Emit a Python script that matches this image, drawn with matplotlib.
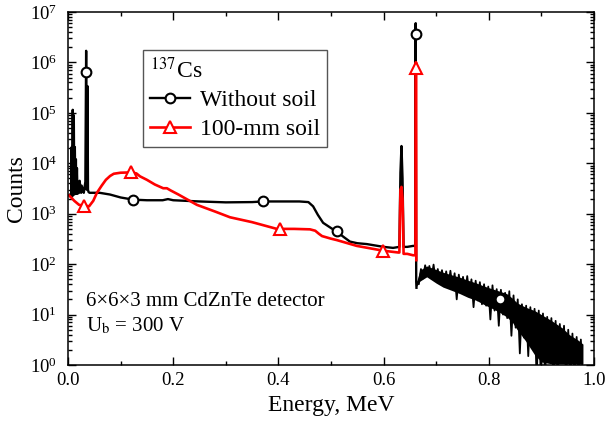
import numpy as np
import matplotlib.pyplot as plt
from matplotlib.lines import Line2D
from matplotlib.ticker import LogLocator, MultipleLocator, NullFormatter

plt.rcParams['font.family'] = ['Liberation Serif', 'DejaVu Serif']
plt.rcParams['mathtext.fontset'] = 'stix'

# black spectrum (without soil), MeV / counts
black_e = [0.004, 0.006, 0.007, 0.008, 0.009, 0.010, 0.011, 0.012, 0.013, 0.014,
           0.015, 0.016, 0.017, 0.018, 0.021, 0.022, 0.025, 0.026, 0.030, 0.033,
           0.0345, 0.0355, 0.037, 0.038, 0.039, 0.041, 0.05, 0.06, 0.08, 0.10,
           0.124, 0.15, 0.18, 0.19, 0.20, 0.25, 0.30, 0.35, 0.371, 0.40,
           0.44, 0.457, 0.466, 0.475, 0.485, 0.50, 0.511, 0.525, 0.536, 0.55,
           0.568, 0.60, 0.618, 0.630, 0.632, 0.634, 0.636, 0.638, 0.645, 0.656,
           0.6600, 0.6610, 0.6620, 0.6625]
black_c = [2.4e3, 2.3e3, 2.1e4, 2.2e3, 1.15e5, 2.5e3, 9.0e4, 2.4e3, 2.1e4, 2.5e3,
           1.2e4, 2.5e3, 8.0e3, 2.5e3, 2.6e3, 4.5e3, 2.6e3, 3.6e3, 2.6e3, 4.3e3,
           1.7e6, 3.0e3, 3.4e5, 3.0e3, 2.7e3, 2.6e3, 2.6e3, 2.6e3, 2.4e3, 2.1e3,
           1.9e3, 1.85e3, 1.85e3, 1.95e3, 1.85e3, 1.75e3, 1.68e3, 1.7e3, 1.75e3, 1.75e3,
           1.75e3, 1.7e3, 1.4e3, 9.5e2, 6.6e2, 5.2e2, 4.4e2, 3.4e2, 2.8e2, 2.6e2,
           2.5e2, 2.2e2, 2.1e2, 2.2e2, 6.5e3, 2.2e4, 5.0e3, 2.2e2, 2.2e2, 2.3e2,
           2.3e2, 6.0e6, 45, 34]

# noisy tail of the black spectrum after the 662 keV peak
tail_e = [0.663, 0.667, 0.671, 0.675, 0.679, 0.683, 0.687, 0.691, 0.695, 0.699,
          0.703, 0.707, 0.711, 0.715, 0.719, 0.723, 0.727, 0.731, 0.735, 0.739,
          0.743, 0.747, 0.751, 0.755, 0.759, 0.763, 0.767, 0.771, 0.775, 0.779,
          0.783, 0.787, 0.791, 0.795, 0.799, 0.803, 0.807, 0.811, 0.815, 0.819,
          0.823, 0.827, 0.831, 0.835, 0.839, 0.843, 0.847, 0.851, 0.855, 0.859,
          0.863, 0.867, 0.871, 0.875, 0.879, 0.883, 0.887, 0.891, 0.895, 0.899,
          0.903, 0.907, 0.911, 0.915, 0.919, 0.923, 0.927, 0.931, 0.935, 0.939,
          0.943, 0.947, 0.951, 0.955, 0.959, 0.963, 0.967, 0.971, 0.975, 0.979]
tail_c = [45, 40, 80, 52, 95, 58, 92, 52, 98, 46,
          80, 40, 76, 38, 72, 35, 74, 34, 66, 20,
          62, 27, 56, 25, 58, 23, 50, 14, 47, 19,
          44, 16, 40, 15, 36, 8, 38, 12, 32, 6,
          31, 10, 27, 8.5, 29, 3.8, 24, 5.5, 20, 1.7,
          16, 3.5, 15, 1.5, 14, 2.5, 13, 0.5, 12, 0.5,
          10.5, 0.5, 9, 2, 8.5, 0.5, 7.5, 0.5, 6.5, 1.3,
          6, 0.5, 5, 0.5, 4.2, 0.5, 3.6, 0.5, 3.2, 0.5]
# dense core of the tail noise band
band_e = [0.6625, 0.669, 0.682, 0.70, 0.713, 0.73, 0.745, 0.76, 0.777, 0.79,
          0.808, 0.821, 0.834, 0.845, 0.854, 0.87, 0.887, 0.90, 0.92, 0.94,
          0.953, 0.97, 0.979]
band_hi = [44, 76, 92, 78, 69, 61, 55, 48, 42, 37,
           32, 29, 26, 21, 17, 14, 12, 10, 7.5, 5.4,
           4.0, 3.1, 2.6]
band_lo = [36, 46, 56, 42, 35, 30, 26, 22, 19, 16,
           13, 11, 9, 7, 5, 3, 1.6, 1.15, 1.05, 1.05,
           1.05, 1.05, 1.05]

# red spectrum (100-mm soil)
red_e = [0.002, 0.006, 0.012, 0.021, 0.030, 0.040, 0.048, 0.055, 0.064, 0.072,
         0.080, 0.087, 0.10, 0.12, 0.13, 0.137, 0.15, 0.165, 0.181, 0.188,
         0.195, 0.21, 0.245, 0.28, 0.308, 0.35, 0.397, 0.403, 0.43, 0.46,
         0.47, 0.477, 0.483, 0.50, 0.511, 0.549, 0.599, 0.628, 0.630, 0.632,
         0.634, 0.636, 0.638, 0.645, 0.656, 0.6605, 0.6612, 0.6618, 0.6622]
red_c = [2.3e3, 2.1e3, 1.8e3, 1.5e3, 1.45e3, 1.4e3, 1.8e3, 2.6e3, 3.6e3, 4.7e3,
         5.6e3, 6.2e3, 6.5e3, 6.6e3, 6.3e3, 5.5e3, 4.7e3, 3.8e3, 3.2e3, 3.2e3,
         2.9e3, 2.4e3, 1.5e3, 1.1e3, 8.5e2, 6.8e2, 5.0e2, 5.0e2, 5.0e2, 4.9e2,
         4.6e2, 4.0e2, 3.6e2, 3.2e2, 3.0e2, 2.3e2, 1.85e2, 1.7e2, 1.7e2, 3.0e3,
         3.4e3, 2.0e3, 1.6e2, 1.6e2, 1.5e2, 1.5e2, 1.0e6, 1.0e6, 1.2e2]

# markers
circ_e = [0.035, 0.124, 0.371, 0.511, 0.661, 0.821]
circ_c = [6.5e5, 1.9e3, 1.75e3, 4.5e2, 3.7e6, 20]
tri_e = [0.030, 0.120, 0.403, 0.599, 0.662]
tri_c = [1.45e3, 6.6e3, 5.0e2, 1.85e2, 7.8e5]

fig = plt.figure(figsize=(6.07, 4.23), dpi=100)
ax = fig.add_axes([68/607, 1-365/423, 526/607, 353/423])

ax.plot(black_e, black_c, color='k', lw=1.7)
ax.fill_between(band_e, band_lo, band_hi, color='k', lw=0)
ax.plot(tail_e, tail_c, color='k', lw=1.3)
ax.plot(red_e, red_c, color='red', lw=1.9)

ax.plot(circ_e, circ_c, ls='none', marker='o', ms=7, mfc='white', mec='k', mew=1.5, zorder=5)
ax.plot(tri_e, tri_c, ls='none', marker='^', ms=8, mfc='white', mec='red', mew=1.5, zorder=5)

ax.set_yscale('log')
ax.set_xlim(0, 1.0)
ax.set_ylim(1, 1e7)
ax.xaxis.set_major_locator(MultipleLocator(0.2))
ax.xaxis.set_minor_locator(MultipleLocator(0.1))
ax.xaxis.set_major_formatter(plt.FuncFormatter(lambda v, p: f'{v:.1f}'))
ax.yaxis.set_major_locator(LogLocator(base=10, numticks=10))
ax.yaxis.set_minor_locator(LogLocator(base=10, subs=np.arange(2, 10), numticks=20))
ax.yaxis.set_minor_formatter(NullFormatter())
ax.tick_params(which='both', direction='in', top=True, right=True, width=1)
ax.tick_params(which='major', length=6, labelsize=13.5)
ax.tick_params(which='minor', length=3.2)
ax.tick_params(axis='x', which='major', pad=5)
ax.tick_params(axis='y', which='major', pad=8)
for s in ax.spines.values():
    s.set_linewidth(1.1)

ax.set_xlabel('Energy, MeV', fontsize=17, labelpad=4)
ax.set_ylabel('Counts', fontsize=17, labelpad=2)

handles = [Line2D([], [], color='k', lw=1.7, marker='o', ms=7, mfc='white', mec='k', mew=1.5),
           Line2D([], [], color='red', lw=1.9, marker='^', ms=8, mfc='white', mec='red', mew=1.5)]
leg = ax.legend(handles, ['Without soil', '100-mm soil'], title='$^{137}$Cs',
                loc='upper left', bbox_to_anchor=(0.1426, 0.892), borderaxespad=0,
                fontsize=17, title_fontsize=17, fancybox=False, edgecolor='#555555',
                framealpha=1, handlelength=1.7, handletextpad=0.4, labelspacing=0.3,
                borderpad=0.3, alignment='left')
leg.get_frame().set_linewidth(1.0)

ax.text(0.034, 0.167, '6×6×3 mm CdZnTe detector', transform=ax.transAxes, fontsize=15)
ax.text(0.034, 0.096, 'U$_\\mathrm{b}$ = 300 V', transform=ax.transAxes, fontsize=15)

fig.savefig('out.png', dpi=100)
